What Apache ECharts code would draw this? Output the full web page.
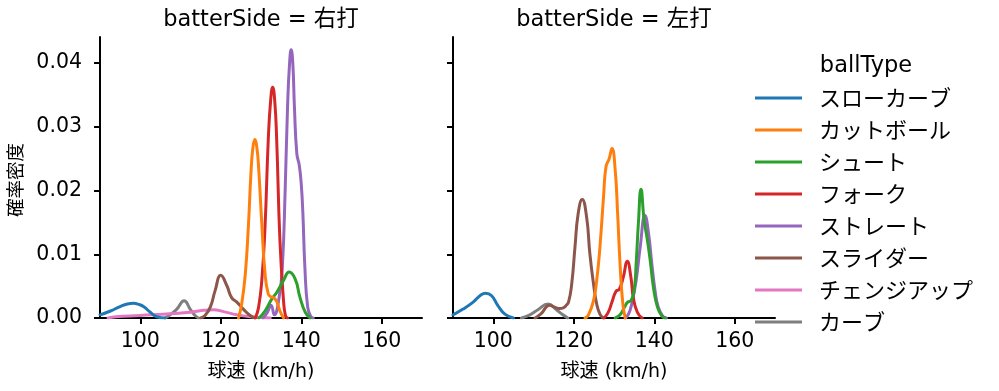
<!DOCTYPE html>
<html><head><meta charset="utf-8">
<script src="https://cdn.jsdelivr.net/npm/echarts@6/dist/echarts.min.js"></script>
<style>html,body{margin:0;padding:0;background:#fff}#c{width:999px;height:391px}</style>
</head><body><div id="c"></div>
<script>
const FONT = '"DejaVu Sans", "Noto Sans CJK JP", sans-serif';
const ballTypes = ['スローカーブ','カットボール','シュート','フォーク','ストレート','スライダー','チェンジアップ','カーブ'];
const colors = ['#1f77b4','#ff7f0e','#2ca02c','#d62728','#9467bd','#8c564b','#e377c2','#7f7f7f'];
const panelTitles = ['batterSide = 右打','batterSide = 左打'];
const xTicks = [100,120,140,160];
const yTicks = [0,0.01,0.02,0.03,0.04];

// 右打 panel: [speed, density]
const r_slowCurve = [[90,0.0005],[92.6,0.0011],[95,0.0018],[96.8,0.0022],[98.3,0.0023],[99.8,0.0021],[100.8,0.0018],[102.5,0.0009],[104.1,0.0002],[106.2,0]];
const r_cutter = [[124.4,0],[125.2,0.0022],[126.1,0.0069],[126.9,0.0148],[127.5,0.0227],[128.0,0.0268],[128.5,0.0280],[129.0,0.0266],[129.4,0.0237],[130.2,0.0148],[131.0,0.007],[131.8,0.0038],[132.5,0.0033],[133.1,0.0032],[133.9,0.0026],[134.7,0.0011],[135.6,0]];
const r_shoot = [[129.5,0],[131.0,0.0011],[132.7,0.003],[133.9,0.004],[135.6,0.0059],[137.0,0.0072],[138.5,0.0061],[139.7,0.0032],[141.0,0.0009],[142.2,0]];
const r_fork = [[128.6,0],[129.4,0.0017],[130.2,0.0059],[131.0,0.0143],[131.8,0.0279],[132.4,0.0342],[132.9,0.0362],[133.4,0.0342],[133.9,0.0279],[134.7,0.0122],[135.6,0.0027],[136.1,0.0003],[136.6,0]];
const r_straight = [[130.5,0],[131.5,0.0008],[132.5,0.002],[133.3,0.0005],[134.5,0.0032],[135.3,0.008],[136.0,0.02],[136.6,0.0332],[137.1,0.040],[137.5,0.0421],[137.9,0.040],[138.3,0.0332],[138.9,0.0258],[139.5,0.024],[140.0,0.021],[140.4,0.0165],[140.9,0.008],[141.6,0.0017],[142.4,0.0002],[143,0]];
const r_slider = [[115,0],[116.1,0.0004],[117.4,0.0017],[118.6,0.0043],[120.0,0.0067],[121.5,0.0051],[122.7,0.0032],[124.0,0.0025],[125.6,0.0014],[127.3,0.0004],[128.5,0]];
const r_changeup = [[92,0],[94,0.0002],[100,0.0004],[108.3,0.0007],[112.4,0.0009],[115.7,0.0012],[118.2,0.0013],[120.7,0.001],[124.0,0.0005],[127.3,0.0002],[132.3,0]];
const r_curve = [[106.2,0],[107.4,0.0005],[109.1,0.0014],[110.9,0.0027],[112.4,0.0014],[113.6,0.0004],[114.5,0]];

// 左打 panel
const l_slowCurve = [[90,0.0005],[92.5,0.0014],[95,0.0025],[96.7,0.0035],[98.1,0.0039],[99.6,0.0035],[101.2,0.0019],[102.9,0.0006],[105,0]];
const l_cutter = [[122.8,0],[123.6,0.0004],[124.9,0.0027],[125.7,0.0059],[126.5,0.0111],[127.4,0.019],[128.0,0.0237],[128.8,0.025],[129.5,0.0266],[130.3,0.0232],[130.9,0.0164],[131.5,0.0085],[132.2,0.0022],[132.8,0]];
const l_shoot = [[130.3,0],[131.5,0.0005],[132.6,0.0017],[133.4,0.0025],[134.2,0.0027],[135.0,0.0043],[135.5,0.0085],[136.1,0.0153],[136.7,0.0202],[137.5,0.0153],[138.3,0.0122],[139.0,0.009],[139.8,0.0048],[140.8,0.0017],[141.9,0.0003],[142.7,0]];
const l_fork = [[127.5,0],[128.5,0.0008],[129.5,0.0025],[130.5,0.0042],[131.3,0.0045],[132.3,0.0064],[133.3,0.0089],[134.2,0.0064],[134.8,0.0032],[135.8,0.0009],[137,0]];
const l_straight = [[132.8,0],[133.6,0.0006],[134.4,0.0022],[135.5,0.0059],[136.5,0.0111],[137.7,0.0161],[138.6,0.0132],[139.4,0.0085],[140.2,0.0043],[141.0,0.0017],[142.1,0.0003],[143,0]];
const l_slider = [[110.4,0],[111.9,0.0007],[114.0,0.002],[115.2,0.0017],[116.5,0.0015],[117.4,0.0016],[118.0,0.0019],[118.7,0.0025],[119.5,0.0054],[120.3,0.0111],[121.1,0.0164],[122.1,0.0186],[123.2,0.0158],[124.0,0.0101],[124.9,0.0054],[125.7,0.0022],[126.5,0.0006],[127.3,0]];
const l_curve = [[107,0],[109.1,0.0005],[111.1,0.0013],[113.6,0.0022],[115.7,0.0013],[117.3,0.0005],[118.5,0]];

const panelData = [
  [r_slowCurve, r_cutter, r_shoot, r_fork, r_straight, r_slider, r_changeup, r_curve],
  [l_slowCurve, l_cutter, l_shoot, l_fork, l_straight, l_slider, null, l_curve]
];

const grids = [
  {left: 100, top: 37, width: 322, height: 281},
  {left: 453, top: 37, width: 322, height: 281}
];

const axisLineStyle = {color: '#000', width: 2};
const xAxes = grids.map((g, i) => ({
  type: 'value', gridIndex: i, min: 90, max: 170,
  axisLine: {show: true, onZero: false, lineStyle: axisLineStyle},
  axisTick: {show: true, length: 6, lineStyle: {color: '#000', width: 2}, customValues: xTicks},
  axisLabel: {customValues: xTicks, fontSize: 20.5, color: '#000', margin: 13, fontFamily: FONT},
  splitLine: {show: false}
}));
const yAxes = grids.map((g, i) => ({
  type: 'value', gridIndex: i, min: 0, max: 0.0441,
  axisLine: {show: true, onZero: false, lineStyle: axisLineStyle},
  axisTick: {show: true, length: 6, lineStyle: {color: '#000', width: 2}, customValues: yTicks},
  axisLabel: {show: i === 0, customValues: yTicks, fontSize: 20.5, color: '#000', margin: 18, fontFamily: FONT,
    formatter: v => v.toFixed(2)},
  splitLine: {show: false}
}));

const series = [];
for (let p = 0; p < 2; p++) {
  for (let k = ballTypes.length - 1; k >= 0; k--) {
    const d = panelData[p][k];
    if (!d) continue;
    series.push({
      type: 'line', name: ballTypes[k], xAxisIndex: p, yAxisIndex: p,
      data: d, smooth: 0.5, showSymbol: false, symbol: 'none',
      lineStyle: {color: colors[k], width: 3, cap: 'round', join: 'round'}, itemStyle: {color: colors[k]},
      emphasis: {disabled: true}, animation: false, z: 10 - k
    });
  }
}

const graphics = [];
panelTitles.forEach((t, i) => {
  const g = grids[i];
  graphics.push({type: 'text', x: g.left + g.width / 2, y: 20,
    style: {text: t, fontSize: 22.5, fontFamily: FONT, fill: '#000', align: 'center', verticalAlign: 'middle'}});
  graphics.push({type: 'text', x: g.left + g.width / 2, y: 372,
    style: {text: '球速 (km/h)', fontSize: 19, fontFamily: FONT, fill: '#000', align: 'center', verticalAlign: 'middle'}});
});
graphics.push({type: 'text', x: 17, y: 180, rotation: Math.PI / 2,
  style: {text: '確率密度', fontSize: 18.5, fontFamily: FONT, fill: '#000', align: 'center', verticalAlign: 'middle'}});
graphics.push({type: 'text', x: 866, y: 66,
  style: {text: 'ballType', fontSize: 22.5, fontFamily: FONT, fill: '#000', align: 'center', verticalAlign: 'middle'}});

const chart = echarts.init(document.getElementById('c'), null, {renderer: 'canvas'});
chart.setOption({
  animation: false,
  backgroundColor: '#fff',
  grid: grids,
  xAxis: xAxes,
  yAxis: yAxes,
  legend: {
    data: ballTypes.map((n, k) => ({name: n, itemStyle: {color: colors[k]}})),
    orient: 'vertical', left: 755, top: 86, padding: 0,
    icon: 'rect', itemWidth: 47, itemHeight: 3, itemGap: 8,
    selectedMode: false,
    textStyle: {fontSize: 22, lineHeight: 24, fontFamily: '"Noto Sans CJK JP", sans-serif', color: '#000', padding: [0, 0, 0, 12]}
  },
  graphic: graphics,
  series: series
});
</script>
</body></html>
